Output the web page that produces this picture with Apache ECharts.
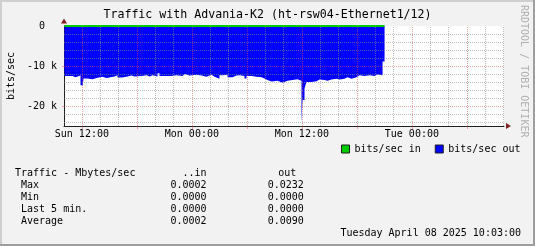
<!DOCTYPE html>
<html><head><meta charset="utf-8">
<script src="https://cdn.jsdelivr.net/npm/echarts@6/dist/echarts.min.js"></script>
<style>html,body{margin:0;padding:0;background:#f2f2f2}#c{width:535px;height:246px}</style>
</head><body><div id="c"></div>
<script>
// time in hours since Sun 00:00
const outTimes = [10.10, 10.98, 11.30, 11.85, 12.07, 12.18, 12.61, 13.16, 13.60, 14.25,
  14.69, 15.56, 15.89, 16.43, 16.98, 17.42, 17.76, 18.50, 19.05, 19.38,
  19.70, 20.25, 20.47, 21.78, 22.32, 22.98, 23.20, 23.74, 24.50, 25.05,
  25.60, 26.14, 26.47, 27.01, 27.34, 27.89, 28.43, 28.87, 29.20, 29.74,
  29.96, 30.50, 31.05, 31.60, 31.92, 32.25, 32.69, 32.80, 33.34, 33.89,
  34.43, 34.98, 35.52, 35.96, 36.07, 36.29, 36.50, 37.05, 37.60, 37.92,
  38.47, 38.79, 39.23, 39.78, 40.11, 40.65, 40.98, 41.41, 41.96, 42.29,
  42.84, 43.38, 43.93, 44.26, 44.80, 45.02];
const outValues = [-12.5, -12.8, -12.4, -14.8, -15.4, -13.1, -13.3, -13.0, -12.7, -13.0,
  -12.6, -12.3, -12.9, -12.6, -12.4, -12.6, -12.5, -12.3, -12.6, -12.3,
  -12.6, -11.8, -12.5, -12.3, -12.5, -12.0, -12.4, -12.2, -12.4, -12.7,
  -12.2, -12.7, -13.2, -12.3, -12.2, -12.8, -12.4, -12.3, -12.5, -13.1,
  -12.5, -12.7, -12.8, -13.1, -13.5, -13.9, -13.4, -13.7, -14.2, -13.7,
  -13.5, -13.3, -13.7, -24.2, -18.5, -15.6, -14.0, -13.8, -13.4, -13.5,
  -13.7, -13.4, -13.2, -13.4, -13.2, -12.8, -13.2, -12.8, -12.3, -12.5,
  -12.3, -12.5, -12.1, -12.3, -8.9, -8.9];
const inTimes = [10.10, 45.02];
const inValues = [0, 0];

const xTickValues = [12, 24, 36, 48];
const xTickLabels = ['Sun 12:00', 'Mon 00:00', 'Mon 12:00', 'Tue 00:00'];
const yTickValues = [0, -10, -20];
const yTickLabels = ['0  ', '-10 k', '-20 k'];
const xMajorGrid = [12, 18, 24, 30, 36, 42, 48, 54];
const xMinorGrid = [14, 16, 20, 22, 26, 28, 32, 34, 38, 40, 44, 46, 50, 52, 56, 58];
const yMajorGrid = [-10, -20];
const yMinorGrid = [-2, -4, -6, -8, -12, -14, -16, -18, -22, -24];

const statHeader = ['Traffic - Mbytes/sec', '..in', 'out'];
const statLabels = ['Max', 'Min', 'Last 5 min.', 'Average'];
const statIn = ['0.0002', '0.0000', '0.0000', '0.0002'];
const statOut = ['0.0232', '0.0000', '0.0000', '0.0090'];
const dateText = 'Tuesday April 08 2025 10:03:00';

const FONT = "'DejaVu Sans Mono', monospace";
const minorCol = 'rgba(143,143,143,0.55)';
const majorCol = 'rgba(222,79,79,0.5)';
const axisCol = '#1f1f1f';
const arrowCol = '#801f1f';

const gridLines = [];
xMinorGrid.forEach(v => gridLines.push({xAxis: v, lineStyle: {color: minorCol, type: [1, 1], width: 1}}));
yMinorGrid.forEach(v => gridLines.push({yAxis: v, lineStyle: {color: minorCol, type: [1, 1], width: 1}}));
xMajorGrid.forEach(v => gridLines.push({xAxis: v, lineStyle: {color: majorCol, type: [1, 1], width: 1}}));
yMajorGrid.forEach(v => gridLines.push({yAxis: v, lineStyle: {color: majorCol, type: [1, 1], width: 1}}));

const graphics = [
  {type: 'rect', shape: {x: 0, y: 0, width: 535, height: 2}, style: {fill: '#cfcfcf'}, silent: true},
  {type: 'rect', shape: {x: 0, y: 0, width: 2, height: 246}, style: {fill: '#cfcfcf'}, silent: true},
  {type: 'rect', shape: {x: 533, y: 0, width: 2, height: 246}, style: {fill: '#9e9e9e'}, silent: true},
  {type: 'rect', shape: {x: 0, y: 244, width: 535, height: 2}, style: {fill: '#9e9e9e'}, silent: true},
  {type: 'text', x: 524, y: 5, rotation: -Math.PI / 2, silent: true,
   style: {text: 'RRDTOOL / TOBI OETIKER', font: '10px ' + FONT, fill: '#b0b0b0', textAlign: 'left', textVerticalAlign: 'middle'}},
  {type: 'text', x: 15, y: 173.3, silent: true, style: {text: statHeader[0], font: '10px ' + FONT, fill: '#000', textAlign: 'left', textVerticalAlign: 'middle'}},
  {type: 'text', x: 206.5, y: 173.3, silent: true, style: {text: statHeader[1], font: '10px ' + FONT, fill: '#000', textAlign: 'right', textVerticalAlign: 'middle'}},
  {type: 'text', x: 287.2, y: 173.3, silent: true, style: {text: statHeader[2], font: '10px ' + FONT, fill: '#000', textAlign: 'center', textVerticalAlign: 'middle'}},
  {type: 'text', x: 521, y: 233.7, silent: true, style: {text: dateText, font: '10px ' + FONT, fill: '#000', textAlign: 'right', textVerticalAlign: 'middle'}}
];
statLabels.forEach((lab, i) => {
  const y = 185.5 + i * 12.1;
  graphics.push({type: 'text', x: 21, y, silent: true, style: {text: lab, font: '10px ' + FONT, fill: '#000', textAlign: 'left', textVerticalAlign: 'middle'}});
  graphics.push({type: 'text', x: 206.5, y, silent: true, style: {text: statIn[i], font: '10px ' + FONT, fill: '#000', textAlign: 'right', textVerticalAlign: 'middle'}});
  graphics.push({type: 'text', x: 303.8, y, silent: true, style: {text: statOut[i], font: '10px ' + FONT, fill: '#000', textAlign: 'right', textVerticalAlign: 'middle'}});
});

const chart = echarts.init(document.getElementById('c'), null, {renderer: 'canvas'});
chart.setOption({
  animation: false,
  backgroundColor: '#f2f2f2',
  title: {
    text: 'Traffic with Advania-K2 (ht-rsw04-Ethernet1/12)',
    left: 'center', top: 9, padding: 0,
    textStyle: {fontFamily: FONT, fontSize: 11.6, fontWeight: 'normal', color: '#000'}
  },
  legend: {
    right: 14.5, top: 144, padding: 0, itemWidth: 8, itemHeight: 8, itemGap: 14, icon: 'rect',
    selectedMode: false,
    textStyle: {fontFamily: FONT, fontSize: 10, color: '#000'},
    data: [
      {name: 'bits/sec in', itemStyle: {color: '#00cc00', borderColor: axisCol, borderWidth: 1}},
      {name: 'bits/sec out', itemStyle: {color: '#0000ff', borderColor: axisCol, borderWidth: 1}}
    ]
  },
  grid: {left: 64, top: 26, width: 440, height: 100, show: true, backgroundColor: '#ffffff', borderWidth: 0,
    containLabel: false, outerBoundsMode: 'none'},
  xAxis: [{
    type: 'value', min: 10.05, max: 58.05,
    axisLine: {show: true, onZero: false, lineStyle: {color: axisCol, width: 1}},
    axisTick: {show: true, customValues: xMajorGrid, length: 3, lineStyle: {color: majorCol}},
    axisLabel: {customValues: xTickValues, margin: 3, fontFamily: FONT, fontSize: 10, color: '#000',
      formatter: v => xTickLabels[xTickValues.indexOf(v)] || ''},
    splitLine: {show: false}
  }, {
    type: 'value', min: 10.05, max: 58.05, position: 'bottom',
    axisLine: {show: true, onZero: false, symbol: ['none', 'triangle'], symbolSize: [6, 5], symbolOffset: [0, 4.5],
      lineStyle: {color: arrowCol, width: 0}},
    axisTick: {show: false}, axisLabel: {show: false}, splitLine: {show: false}
  }],
  yAxis: [{
    type: 'value', min: -25, max: 0,
    name: 'bits/sec', nameLocation: 'middle', nameGap: 48, nameRotate: 90,
    nameTextStyle: {fontFamily: FONT, fontSize: 10, color: '#000'},
    axisLine: {show: true, onZero: false, lineStyle: {color: axisCol, width: 1}},
    axisTick: {show: true, customValues: yMajorGrid, length: 2, lineStyle: {color: majorCol}},
    axisLabel: {customValues: yTickValues, margin: 7, fontFamily: FONT, fontSize: 10, color: '#000',
      formatter: v => yTickLabels[yTickValues.indexOf(v)] || ''},
    splitLine: {show: false}
  }, {
    type: 'value', min: -25, max: 0, position: 'left',
    axisLine: {show: true, onZero: false, symbol: ['none', 'triangle'], symbolSize: [6, 5], symbolOffset: [0, 5],
      lineStyle: {color: arrowCol, width: 0}},
    axisTick: {show: false}, axisLabel: {show: false}, splitLine: {show: false}
  }],
  series: [{
    name: 'bits/sec out', type: 'line', step: 'end', xAxisIndex: 0, yAxisIndex: 0,
    data: outTimes.map((t, i) => [t, outValues[i]]),
    symbol: 'none', showSymbol: false, color: '#0000ff',
    lineStyle: {width: 0, color: '#0000ff'},
    areaStyle: {color: '#0000ff', opacity: 1},
    z: 2
  }, {
    name: 'grid', type: 'line', xAxisIndex: 0, yAxisIndex: 0, data: [],
    symbol: 'none', z: 4, silent: true,
    markLine: {silent: true, symbol: 'none', animation: false, label: {show: false}, z: 4, data: gridLines}
  }, {
    name: 'bits/sec in', type: 'line', xAxisIndex: 0, yAxisIndex: 0,
    data: inTimes.map((t, i) => [t, inValues[i]]),
    symbol: 'none', showSymbol: false, color: '#00cc00', clip: false,
    lineStyle: {width: 2, color: '#00cc00'},
    z: 10
  }],
  graphic: graphics
});
</script>
</body></html>
